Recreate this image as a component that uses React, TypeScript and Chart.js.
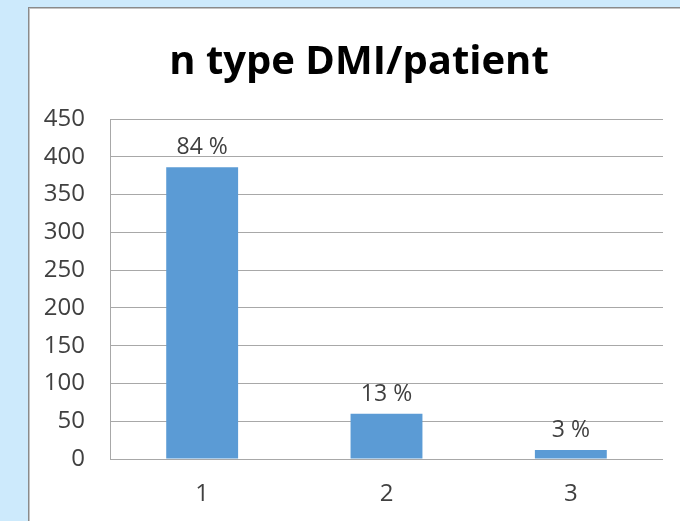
import React, { useEffect, useRef } from "react";
import { Chart, registerables } from "chart.js";

Chart.register(...registerables);

const categories = ["1", "2", "3"];
const counts = [386, 60, 12];
const percentLabels = ["84 %", "13 %", "3 %"];
const yTicks = [0, 50, 100, 150, 200, 250, 300, 350, 400, 450];
const titleText = "n type DMI/patient";

const FONT = "'Open Sans', 'Liberation Sans', sans-serif";

const backgroundPlugin = {
  id: "bgPanel",
  beforeDraw(chart: any) {
    const { ctx, width, height } = chart;
    ctx.save();
    ctx.fillStyle = "#cdeafc";
    ctx.fillRect(0, 0, width, height);
    ctx.fillStyle = "#ffffff";
    ctx.fillRect(28, 7, width - 28, height - 7);
    ctx.fillStyle = "#8a8a8a";
    ctx.fillRect(28, 7, width - 28, 1);
    ctx.fillRect(28, 7, 1, height - 7);
    ctx.fillStyle = "#c4c4c4";
    ctx.fillRect(29, 8, width - 29, 1);
    ctx.fillRect(29, 8, 1, height - 8);
    ctx.restore();
  },
};

const titlePlugin = {
  id: "customTitle",
  afterDraw(chart: any) {
    const { ctx } = chart;
    ctx.save();
    ctx.font = `bold 40px ${FONT}`;
    ctx.fillStyle = "#000000";
    ctx.textAlign = "center";
    ctx.textBaseline = "alphabetic";
    ctx.fillText(titleText, 359, 74);
    ctx.restore();
  },
};

const valueLabelPlugin = {
  id: "valueLabels",
  afterDatasetsDraw(chart: any) {
    const { ctx } = chart;
    const meta = chart.getDatasetMeta(0);
    ctx.save();
    ctx.font = `23px ${FONT}`;
    ctx.fillStyle = "#404040";
    ctx.textAlign = "center";
    ctx.textBaseline = "alphabetic";
    meta.data.forEach((bar: any, i: number) => {
      ctx.fillText(percentLabels[i], bar.x, bar.y - 13);
    });
    ctx.restore();
  },
};

export default function App() {
  const ref = useRef<HTMLCanvasElement | null>(null);
  useEffect(() => {
    if (!ref.current) return;
    const chart = new Chart(ref.current, {
      type: "bar",
      data: {
        labels: categories,
        datasets: [
          {
            data: counts,
            backgroundColor: "#5b9bd5",
            borderWidth: 0,
            categoryPercentage: 1,
            barPercentage: 0.39,
          },
        ],
      },
      options: {
        animation: false,
        responsive: false,
        maintainAspectRatio: false,
        layout: { padding: { left: 0, right: 17, top: 119, bottom: 0 } },
        plugins: {
          legend: { display: false },
          tooltip: { enabled: false },
          title: { display: false },
        },
        scales: {
          x: {
            grid: { display: false, drawTicks: false },
            border: { display: false },
            ticks: {
              color: "#404040",
              font: { family: FONT, size: 24 },
              padding: 21,
            },
            afterFit(scale: any) {
              scale.height = 62;
            },
          },
          y: {
            min: 0,
            max: 450,
            afterBuildTicks(scale: any) {
              scale.ticks = yTicks.map((v) => ({ value: v }));
            },
            grid: { color: "#a8a8a8", lineWidth: 1, drawTicks: false },
            border: { display: true, color: "#a8a8a8", width: 1 },
            ticks: {
              color: "#404040",
              font: { family: FONT, size: 24 },
              padding: 25,
            },
            afterFit(scale: any) {
              scale.width = 110;
            },
          },
        },
      },
      plugins: [backgroundPlugin, valueLabelPlugin, titlePlugin],
    });
    return () => chart.destroy();
  }, []);
  return (
    <div style={{ position: "fixed", left: 0, top: 0, width: 680, height: 521 }}>
      <canvas ref={ref} width={680} height={521} style={{ display: "block" }} />
    </div>
  );
}
